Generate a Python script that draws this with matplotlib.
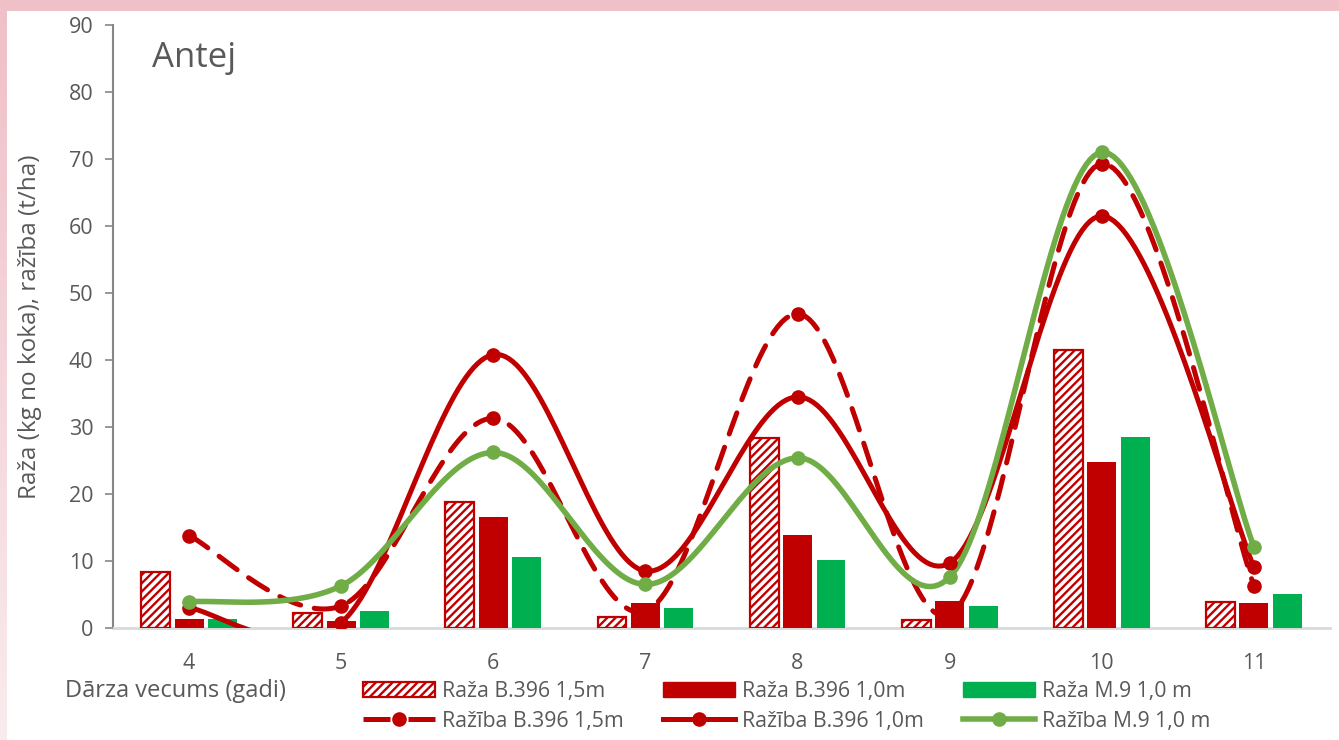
import numpy as np
import matplotlib
matplotlib.use("Agg")
import matplotlib.pyplot as plt
from matplotlib.patches import Rectangle, Patch
from matplotlib.lines import Line2D
from matplotlib.colors import LinearSegmentedColormap

plt.rcParams['font.family'] = ['Open Sans', 'DejaVu Sans']
plt.rcParams['hatch.linewidth'] = 1.7

# Orchard age (years)
years = [4, 5, 6, 7, 8, 9, 10, 11]

# Yield per tree (kg)
raza_b396_15 = [8.4, 2.2, 18.8, 1.6, 28.4, 1.2, 41.5, 3.9]
raza_b396_10 = [1.4, 1.0, 16.6, 3.7, 13.9, 4.0, 24.8, 3.7]
raza_m9_10 = [1.4, 2.6, 10.6, 3.0, 10.2, 3.3, 28.5, 5.1]

# Productivity (t/ha)
razib_b396_15 = [13.8, 3.3, 31.3, 2.5, 46.9, 2.0, 69.3, 6.3]
razib_b396_10 = [3.0, 0.8, 40.8, 8.5, 34.5, 9.7, 61.5, 9.1]
razib_m9_10 = [3.9, 6.3, 26.2, 6.5, 25.4, 7.6, 71.0, 12.1]

labels_bar = ["Raža B.396 1,5m", "Raža B.396 1,0m", "Raža M.9 1,0 m"]
labels_line = ["Ražība B.396 1,5m", "Ražība B.396 1,0m", "Ražība M.9 1,0 m"]

RED = "#C00000"
GREEN_BAR = "#00B050"
GREEN_LINE = "#70AD47"
GRAY_TXT = "#595959"


def smooth(x, y, n=40):
    """Bezier smoothing through the points (Catmull-Rom style control points)."""
    x = np.asarray(x, float)
    y = np.asarray(y, float)
    px = np.concatenate([[x[0]], x, [x[-1]]])
    py = np.concatenate([[y[0]], y, [y[-1]]])
    xs, ys = [], []
    t = np.linspace(0, 1, n)
    for i in range(len(x) - 1):
        p0 = np.array([px[i + 1], py[i + 1]])
        p3 = np.array([px[i + 2], py[i + 2]])
        c1 = p0 + (np.array([px[i + 2], py[i + 2]]) - np.array([px[i], py[i]])) / 6
        c2 = p3 - (np.array([px[i + 3], py[i + 3]]) - np.array([px[i + 1], py[i + 1]])) / 6
        b = ((1 - t) ** 3)[:, None] * p0 + (3 * (1 - t) ** 2 * t)[:, None] * c1 \
            + (3 * (1 - t) * t ** 2)[:, None] * c2 + (t ** 3)[:, None] * p3
        xs.append(b[:, 0])
        ys.append(b[:, 1])
    return np.concatenate(xs), np.concatenate(ys)


W, H = 1339, 740
fig = plt.figure(figsize=(W / 100, H / 100), dpi=100, facecolor="white")

# Pink frame: top strip and a fading left strip
fig.patches.append(Rectangle((0, 1 - 11 / H), 1, 11 / H, transform=fig.transFigure,
                             facecolor="#EFC0C8", edgecolor="none", zorder=0))
grad_ax = fig.add_axes([0, 0, 7 / W, 1 - 11 / H])
grad = np.linspace(0, 1, 256)[:, None]
cmap = LinearSegmentedColormap.from_list("pk", ["#EFC0C8", "#F9ECEE"])
grad_ax.imshow(grad, aspect="auto", cmap=cmap, extent=[0, 1, 0, 1], origin="upper")
grad_ax.axis("off")

ax = fig.add_axes([113 / W, 1 - 628 / H, 1217 / W, 603 / H])
ax.set_facecolor("white")

x = np.array(years, float)
bw = 0.19
off = 0.22
ax.bar(x - off, raza_b396_15, width=bw, facecolor="white", edgecolor=RED,
       hatch="////", linewidth=1.6, zorder=2)
ax.bar(x, raza_b396_10, width=bw, color=RED, zorder=2)
ax.bar(x + off, raza_m9_10, width=bw, color=GREEN_BAR, zorder=2)

lw = 3.6
ms = 9.5
sx, sy = smooth(years, razib_b396_15)
ax.plot(sx, sy, color=RED, lw=lw, dashes=(4.5, 2.8), dash_capstyle="round", zorder=3)
ax.plot(years, razib_b396_15, 'o', color=RED, ms=ms, zorder=4)
sx, sy = smooth(years, razib_b396_10)
ax.plot(sx, sy, color=RED, lw=lw, solid_capstyle="round", zorder=3)
ax.plot(years, razib_b396_10, 'o', color=RED, ms=ms, zorder=4)
sx, sy = smooth(years, razib_m9_10)
ax.plot(sx, sy, color=GREEN_LINE, lw=lw + 0.4, solid_capstyle="round", zorder=3)
ax.plot(years, razib_m9_10, 'o', color=GREEN_LINE, ms=ms, zorder=4)

ax.set_xlim(3.5, 11.5)
ax.set_ylim(0, 90)
ax.set_yticks(range(0, 91, 10))
ax.set_xticks(years)
ax.set_xticklabels([str(v) for v in years])
ax.tick_params(axis="y", length=6, width=1.2, color="#868686", pad=8,
               labelsize=15.5, labelcolor=GRAY_TXT)
ax.tick_params(axis="x", length=0, labelsize=15.5, labelcolor=GRAY_TXT)
ax.xaxis.set_tick_params(pad=18)
for s in ("top", "right"):
    ax.spines[s].set_visible(False)
ax.spines["left"].set_color("#868686")
ax.spines["left"].set_linewidth(1.5)
ax.spines["bottom"].set_color("#D9D9D9")
ax.spines["bottom"].set_linewidth(2)
ax.spines["left"].set_zorder(1)
ax.spines["bottom"].set_zorder(1)

ax.set_ylabel("Raža (kg no koka), ražība (t/ha)", fontsize=17.5, color=GRAY_TXT)
ax.yaxis.set_label_coords(-0.058, 0.5)

fig.text(152 / W, 1 - 58 / H, "Antej", fontsize=25, color=GRAY_TXT,
         ha="left", va="center")
fig.text(65 / W, 1 - 691 / H, "Dārza vecums (gadi)", fontsize=17, color=GRAY_TXT,
         ha="left", va="center")

# Legend: one column per series pair
bar_handles = [
    Patch(facecolor="white", edgecolor=RED, hatch="////", linewidth=1.6),
    Patch(facecolor=RED, edgecolor=RED),
    Patch(facecolor=GREEN_BAR, edgecolor=GREEN_BAR),
]
line_handles = [
    Line2D([], [], color=RED, lw=lw, dashes=(5.4, 3.6), marker='o', ms=ms),
    Line2D([], [], color=RED, lw=lw, marker='o', ms=ms),
    Line2D([], [], color=GREEN_LINE, lw=lw + 0.4, marker='o', ms=ms),
]
col_x = [363, 663, 963]
for i in range(3):
    fig.legend([bar_handles[i], line_handles[i]], [labels_bar[i], labels_line[i]],
               loc="upper left", bbox_to_anchor=(col_x[i] / W, 1 - 681 / H),
               frameon=False, borderpad=0, borderaxespad=0, fontsize=15.3,
               handlelength=3.4, handleheight=0.75, handletextpad=0.3,
               labelspacing=0.42, labelcolor=GRAY_TXT)

fig.savefig("out.png", dpi=100, facecolor="white")
